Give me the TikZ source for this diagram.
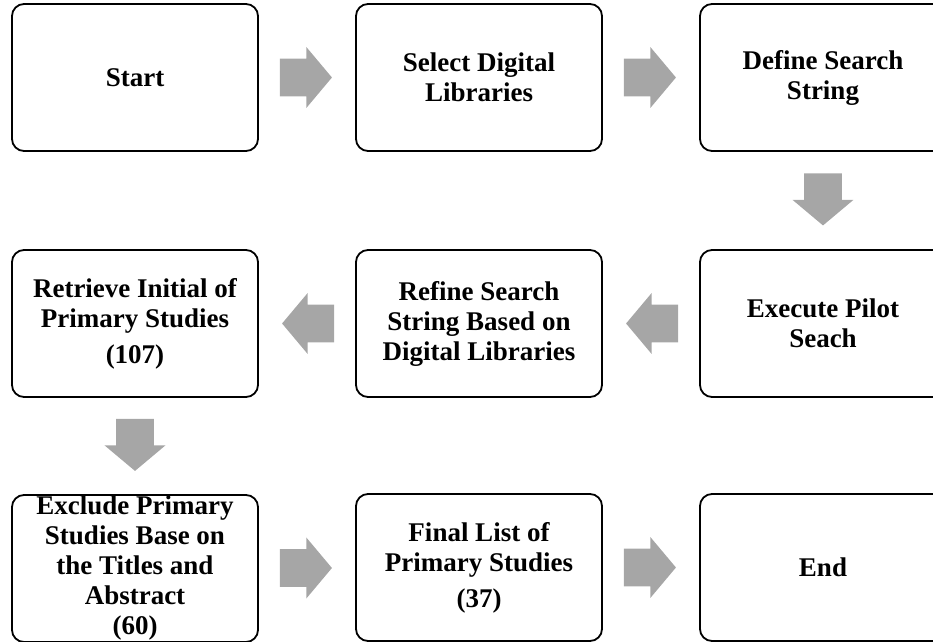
\documentclass[tikz,border=0pt]{standalone}
\usepackage{fontspec}
\setmainfont{Liberation Serif}
\usetikzlibrary{shapes.arrows,calc}
\definecolor{arrowgray}{RGB}{166,166,166}

\begin{document}
\begin{tikzpicture}[x=0.5pt,y=-0.5pt,
  stepbox/.style={draw, line width=0.9pt, rounded corners=6pt, minimum width=123pt,
    minimum height=73.5pt, align=center, inner sep=0pt,
    font=\fontsize{13.5}{15}\selectfont\bfseries},
  fatarrow/.style={single arrow, fill=arrowgray, draw=none, inner xsep=0pt,
    inner ysep=9.25pt, minimum height=26pt, single arrow head extend=5.75pt,
    single arrow tip angle=100, rotate=#1, xshift=-4.5pt},
  fatarrow/.default=0]
\useasboundingbox (0,0) rectangle (933,642);
\node[stepbox] (start) at (135,77.5) {Start};
\node[stepbox] (select) at (479,77.5) {Select Digital\\Libraries};
\node[stepbox] (define) at (823,77.5) {Define Search\\String};
\node[stepbox] (pilot) at (823,323.5) {Execute Pilot\\Seach};
\node[stepbox] (refine) at (479,323.5) {Refine Search\\String Based on\\Digital Libraries};
\node[stepbox] (retrieve) at (135,323.5) {Retrieve Initial of\\Primary Studies\\[3pt](107)};
\node[stepbox] (exclude) at (135,568.5) {Exclude Primary\\Studies Base on\\the Titles and\\Abstract\\(60)};
\node[stepbox] (final) at (479,567.5) {Final List of\\Primary Studies\\[3pt](37)};
\node[stepbox] (end) at (823,567.5) {End};
\node[fatarrow] (a1) at ($(start.east)!0.5!(select.west)$) {};
\node[fatarrow] (a2) at ($(select.east)!0.5!(define.west)$) {};
\node[fatarrow=-90] (a3) at ($(define.south)!0.5!(pilot.north)$) {};
\node[fatarrow=180] (a4) at ($(pilot.west)!0.5!(refine.east)$) {};
\node[fatarrow=180] (a5) at ($(refine.west)!0.5!(retrieve.east)$) {};
\node[fatarrow=-90] (a6) at ($(retrieve.south)!0.5!(exclude.north)$) {};
\node[fatarrow] (a7) at ($(exclude.east)!0.5!(final.west)$) {};
\node[fatarrow] (a8) at ($(final.east)!0.5!(end.west)$) {};
\end{tikzpicture}
\end{document}
